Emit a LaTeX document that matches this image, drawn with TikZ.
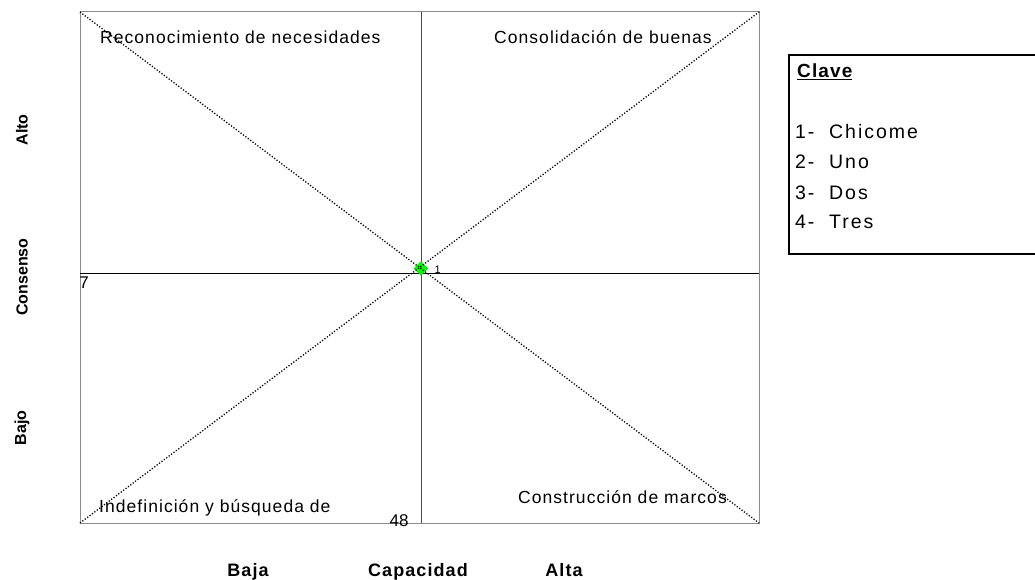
\documentclass[tikz,border=0pt]{standalone}
\usepackage{fontspec}
\setmainfont{Liberation Sans}
\newfontfamily\quadfont[LetterSpace=6]{Liberation Sans}
\newfontfamily\keyfont[LetterSpace=10]{Liberation Sans}
\newfontfamily\axfont[LetterSpace=6]{Liberation Sans}
\usetikzlibrary{shapes.geometric}

\begin{document}
\begin{tikzpicture}[x=1pt,y=-1pt,
    frame/.style={draw=black!45,line width=1pt},
    axisline/.style={draw=black,line width=1pt},
    diag/.style={draw,line width=1.3pt,dash pattern=on 1.2pt off 1.8pt},
    quad/.style={font=\quadfont\fontsize{17.5}{19}\selectfont,inner sep=0pt},
    axlabel/.style={font=\axfont\bfseries\fontsize{18}{20}\selectfont,inner sep=0pt,anchor=base},
    sidelabel/.style={font=\bfseries\fontsize{16}{18}\selectfont,inner sep=0pt,rotate=90},
    keytext/.style={font=\keyfont\fontsize{19.5}{21}\selectfont,inner sep=0pt,anchor=base west}] % matriz consenso / capacidad
  \useasboundingbox (0,0) rectangle (1035,580);
  \coordinate (tl) at (80,12);
  \coordinate (tr) at (759,12);
  \coordinate (bl) at (80,523);
  \coordinate (br) at (759,523);
  \coordinate (top) at (421,12);
  \coordinate (bot) at (421,523);
  \coordinate (left) at (80,273);
  \coordinate (right) at (759,273);
  \draw[frame] (tl) rectangle (br);
  \draw[axisline,draw=black!70] (top) -- (bot);
  \draw[axisline] (left) -- (right);
  \node[diamond,fill=green,draw=green!80!black,inner sep=0pt,minimum size=14pt] (p1) at (421,268.5) {};
  \draw[diag] (tl) -- (br);
  \draw[diag] (bl) -- (tr);
  \node[font=\fontsize{11}{12}\selectfont,right=1pt] (n1) at (430,270) {1};
  \node[font=\fontsize{17}{18}\selectfont] (v7) at (84,283) {7};
  \node[font=\fontsize{17}{18}\selectfont] (v48) at (399,521) {48};
  % cuadrantes
  \node[quad,anchor=base west] (q1) at (100,44) {Reconocimiento de necesidades};
  \node[quad,anchor=base west] (q2) at (494,44) {Consolidación de buenas};
  \node[quad,anchor=base west] (q3) at (99,512) {Indefinición y búsqueda de};
  \node[quad,anchor=base east] (q4) at (727,503) {Construcción de marcos};
  % ejes
  \node[axlabel] (baja) at (248,576) {Baja};
  \node[axlabel] (cap) at (418,576) {Capacidad};
  \node[axlabel] (alta) at (564,576) {Alta};
  \node[sidelabel] (alto) at (22,130) {Alto};
  \node[sidelabel] (cons) at (22,277) {Consenso};
  \node[sidelabel] (bajo) at (22,428) {Bajo};
  % clave
  \draw[line width=2.2pt] (1040,55) -- (789,55) -- (789,254) -- (1040,254);
  \node[keytext,font=\axfont\bfseries\fontsize{19}{21}\selectfont] (clave) at (797,78) {\underline{Clave}};
  \node[keytext] (k1) at (795,139) {1-\ \ Chicome};
  \node[keytext] (k2) at (795,169) {2-\ \ Uno};
  \node[keytext] (k3) at (795,199) {3-\ \ Dos};
  \node[keytext] (k4) at (795,228) {4-\ \ Tres};
\end{tikzpicture}
\end{document}
